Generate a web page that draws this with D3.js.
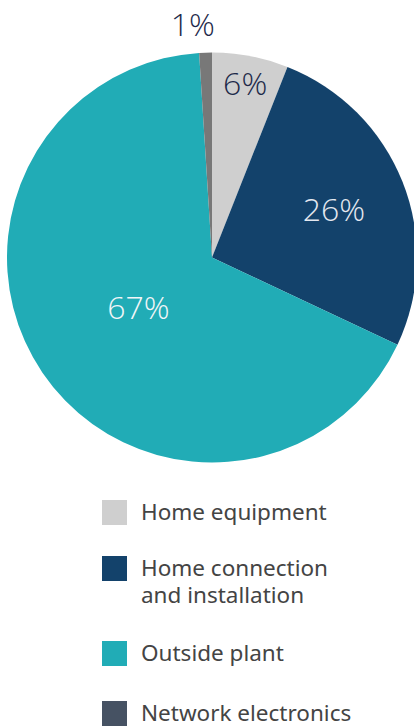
<!DOCTYPE html>
<html>
<head>
<meta charset="utf-8">
<script src="https://cdn.jsdelivr.net/npm/d3@7"></script>
<style>
  html, body { margin: 0; padding: 0; background: #fff; }
  #figure { width: 414px; height: 726px; overflow: hidden; }
</style>
</head>
<body>
<div id="figure"></div>
<script>
// data
var categories = ["Home equipment", "Home connection and installation", "Outside plant", "Network electronics"];
var shares = [6, 26, 67, 1];
var pctLabels = ["6%", "26%", "67%", "1%"];
var legendLines = [["Home equipment"], ["Home connection", "and installation"], ["Outside plant"], ["Network electronics"]];

// styling
var sliceColors = ["#cfcfcf", "#13426b", "#21acb6", "#787878"];
var legendColors = ["#cfcfcf", "#13426b", "#21acb6", "#465263"];
var labelColors = ["#1e2a4a", "#e4e8f0", "#f2f6f8", "#1e2a4a"];
var labelRadius = [177, 131, 89, 233];
var labelDx = [0, 0, 0, -12];

const width = 414, height = 726;
const cx = 212, cy = 257.5, radius = 205;

const svg = d3.select("#figure")
  .append("svg")
  .attr("width", width)
  .attr("height", height);

const data = categories.map(function(c, i) { return {name: c, value: shares[i], i: i}; });

const pie = d3.pie().sort(null).value(function(d) { return d.value; });
const arcs = pie(data);
const arc = d3.arc().innerRadius(0).outerRadius(radius);

const g = svg.append("g").attr("transform", `translate(${cx},${cy})`);

g.selectAll("path")
  .data(arcs)
  .join("path")
  .attr("d", arc)
  .attr("fill", function(d) { return sliceColors[d.data.i]; });

// percent labels
g.selectAll("text")
  .data(arcs)
  .join("text")
  .attr("transform", function(d) {
    var r = labelRadius[d.data.i];
    var c = d3.arc().innerRadius(r).outerRadius(r).centroid(d);
    return `translate(${c[0] + labelDx[d.data.i]},${c[1]})`;
  })
  .attr("text-anchor", "middle")
  .attr("dy", "0.36em")
  .attr("font-family", "'Open Sans', 'Noto Sans', sans-serif")
  .attr("font-weight", 300)
  .attr("font-size", 32)
  .attr("fill", function(d) { return labelColors[d.data.i]; })
  .text(function(d) { return pctLabels[d.data.i]; });

// legend
var legendTop = [500, 556, 641, 701];
const legend = svg.append("g");
const item = legend.selectAll("g")
  .data(data)
  .join("g")
  .attr("transform", function(d) { return `translate(102,${legendTop[d.i]})`; });

item.append("rect")
  .attr("width", 25)
  .attr("height", 25)
  .attr("fill", function(d) { return legendColors[d.i]; });

item.selectAll("text")
  .data(function(d) { return legendLines[d.i]; })
  .join("text")
  .attr("x", 39)
  .attr("y", function(d, j) { return 20 + j * 27; })
  .attr("font-family", "'Noto Sans', 'Open Sans', sans-serif")
  .attr("font-size", 22.5)
  .attr("fill", "#444")
  .text(function(d) { return d; });
</script>
</body>
</html>
